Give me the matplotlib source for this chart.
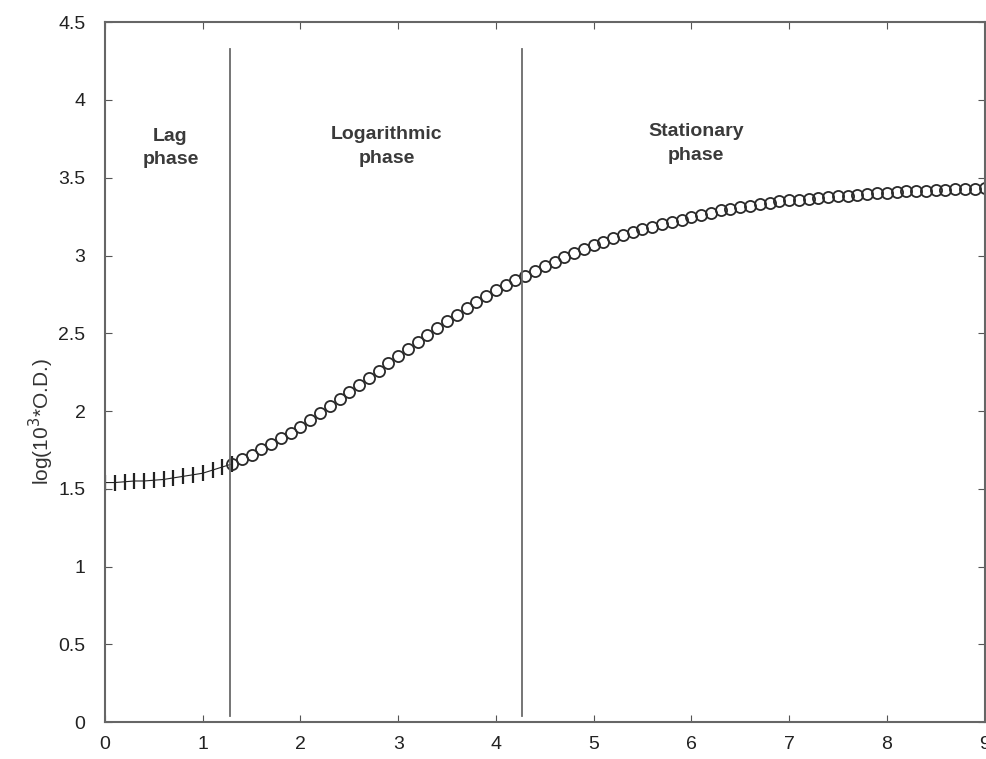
import matplotlib.pyplot as plt

plt.rcParams['font.family'] = ['Liberation Sans', 'DejaVu Sans']

# lag phase points (drawn as | ticks)
lag_x = [0.0, 0.1, 0.2, 0.3, 0.4, 0.5, 0.6, 0.7, 0.8, 0.9, 1.0, 1.1, 1.2, 1.3]
lag_y = [1.54, 1.54, 1.545, 1.55, 1.55, 1.555, 1.56, 1.57, 1.58, 1.59,
         1.60, 1.62, 1.64, 1.66]

# growth points (open circles)
grow_x = [1.3, 1.4, 1.5, 1.6, 1.7, 1.8, 1.9, 2.0, 2.1, 2.2, 2.3, 2.4, 2.5,
          2.6, 2.7, 2.8, 2.9, 3.0, 3.1, 3.2, 3.3, 3.4, 3.5, 3.6, 3.7, 3.8,
          3.9, 4.0, 4.1, 4.2, 4.3, 4.4, 4.5, 4.6, 4.7, 4.8, 4.9, 5.0, 5.1,
          5.2, 5.3, 5.4, 5.5, 5.6, 5.7, 5.8, 5.9, 6.0, 6.1, 6.2, 6.3, 6.4,
          6.5, 6.6, 6.7, 6.8, 6.9, 7.0, 7.1, 7.2, 7.3, 7.4, 7.5, 7.6, 7.7,
          7.8, 7.9, 8.0, 8.1, 8.2, 8.3, 8.4, 8.5, 8.6, 8.7, 8.8, 8.9, 9.0]
grow_y = [1.66, 1.69, 1.72, 1.755, 1.79, 1.825, 1.86, 1.90, 1.94, 1.985,
          2.03, 2.075, 2.12, 2.165, 2.21, 2.26, 2.31, 2.355, 2.40, 2.445,
          2.49, 2.535, 2.58, 2.62, 2.66, 2.70, 2.74, 2.775, 2.81, 2.84,
          2.87, 2.90, 2.93, 2.96, 2.99, 3.015, 3.04, 3.065, 3.09, 3.11,
          3.13, 3.15, 3.17, 3.185, 3.20, 3.215, 3.23, 3.245, 3.26, 3.275,
          3.29, 3.30, 3.31, 3.32, 3.33, 3.34, 3.35, 3.355, 3.36, 3.365,
          3.37, 3.375, 3.38, 3.385, 3.39, 3.395, 3.40, 3.405, 3.41, 3.412,
          3.415, 3.418, 3.42, 3.422, 3.425, 3.428, 3.43, 3.435]

# phase boundaries
bounds = [1.28, 4.27]
phase_labels = ['Lag\nphase', 'Logarithmic\nphase', 'Stationary\nphase']
label_x = [0.67, 2.88, 6.05]
label_y = [3.69, 3.70, 3.72]

fig = plt.figure(figsize=(9.86, 7.59), dpi=100)
ax = fig.add_axes([0.1065, 0.0487, 0.892, 0.922])

ax.plot(lag_x, lag_y, color='#222222', linewidth=0.8, marker='|',
        markersize=11, markeredgewidth=1.6)
ax.plot(grow_x, grow_y, linestyle='none', marker='o', markersize=8,
        markerfacecolor='none', markeredgecolor='#2a2a2a', markeredgewidth=1.3)

for b in bounds:
    ax.plot([b, b], [0.04, 4.33], color='#6a6a6a', linewidth=1.3)

for t, lx, ly in zip(phase_labels, label_x, label_y):
    ax.text(lx, ly, t, ha='center', va='center', fontsize=14,
            fontweight='bold', color='#3a3a3a', linespacing=1.5)

ax.set_xlim(0, 9)
ax.set_ylim(0, 4.5)
ax.set_xticks(range(0, 10))
ax.set_yticks([0, 0.5, 1, 1.5, 2, 2.5, 3, 3.5, 4, 4.5])
ax.set_yticklabels(['0', '0.5', '1', '1.5', '2', '2.5', '3', '3.5', '4', '4.5'])
ax.tick_params(direction='in', length=5, top=True, right=True,
               labelsize=14, colors='#555555', labelcolor='#222222')
ax.tick_params(axis='x', pad=10)
ax.tick_params(axis='y', pad=14)
for s in ax.spines.values():
    s.set_color('#666666')
    s.set_linewidth(1.5)

ax.set_ylabel('log(10$^3$*O.D.)', fontsize=15, color='#333333')
ax.yaxis.set_label_coords(-0.056, 0.43)

plt.savefig('out.png', dpi=100)
